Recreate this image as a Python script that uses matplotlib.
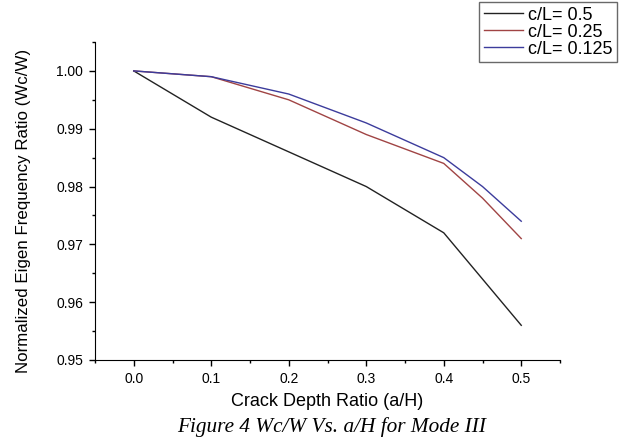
import matplotlib
matplotlib.use("Agg")
import matplotlib.pyplot as plt
from matplotlib.ticker import MultipleLocator, FormatStrFormatter

x_black = [0.0, 0.1, 0.2, 0.3, 0.4, 0.5]
y_black = [1.000, 0.992, 0.986, 0.980, 0.972, 0.956]
x_other = [0.0, 0.1, 0.2, 0.3, 0.4, 0.45, 0.5]
y_red = [1.000, 0.999, 0.995, 0.989, 0.984, 0.978, 0.971]
y_blue = [1.000, 0.999, 0.996, 0.991, 0.985, 0.980, 0.974]
labels = ["c/L= 0.5", "c/L= 0.25", "c/L= 0.125"]

plt.rcParams['font.family'] = ['Liberation Sans', 'DejaVu Sans']

W, H = 622, 443
fig = plt.figure(figsize=(W / 100, H / 100), dpi=100)
ax = fig.add_axes([95 / W, 1 - 360 / H, (560 - 95) / W, (360 - 42) / H])
l1, = ax.plot(x_black, y_black, color='#222222', lw=1.0, label=labels[0])
l2, = ax.plot(x_other, y_red, color='#a04444', lw=1.0, label=labels[1])
l3, = ax.plot(x_other, y_blue, color='#3c3c9c', lw=1.0, label=labels[2])

ax.set_xlim(-0.05, 0.55)
ax.set_ylim(0.95, 1.005)
ax.xaxis.set_major_locator(MultipleLocator(0.1))
ax.xaxis.set_minor_locator(MultipleLocator(0.05))
ax.yaxis.set_major_locator(MultipleLocator(0.01))
ax.yaxis.set_minor_locator(MultipleLocator(0.005))
ax.xaxis.set_major_formatter(FormatStrFormatter('%.1f'))
ax.yaxis.set_major_formatter(FormatStrFormatter('%.2f'))
for s in ['top', 'right']:
    ax.spines[s].set_visible(False)
ax.tick_params(which='major', direction='out', length=4.5, width=1, labelsize=10, pad=4)
ax.tick_params(which='minor', direction='out', length=2.5, width=1)
ax.set_xlabel("Crack Depth Ratio (a/H)", fontsize=13, labelpad=5)
ax.set_ylabel("Normalized Eigen Frequency Ratio (Wc/W)", fontsize=12.2, labelpad=18)
ax.yaxis.label.set_y((360 - 211) / (360 - 42))

leg = fig.legend(handles=[l1, l2, l3], loc='upper right',
                 bbox_to_anchor=(617 / W, 1 - 2 / H),
                 fontsize=13, frameon=True, fancybox=False, edgecolor='#444444',
                 borderpad=0.25, handlelength=2.2, labelspacing=0.0, handletextpad=0.25,
                 borderaxespad=0.0)
leg.get_frame().set_linewidth(1.0)

fig.text(332 / W, 1 - 427 / H, "Figure 4 Wc/W Vs. a/H for Mode III", ha='center', va='center',
         fontsize=15.3, style='italic', family=['Liberation Serif', 'DejaVu Serif'])

fig.savefig("out.png", dpi=100)
